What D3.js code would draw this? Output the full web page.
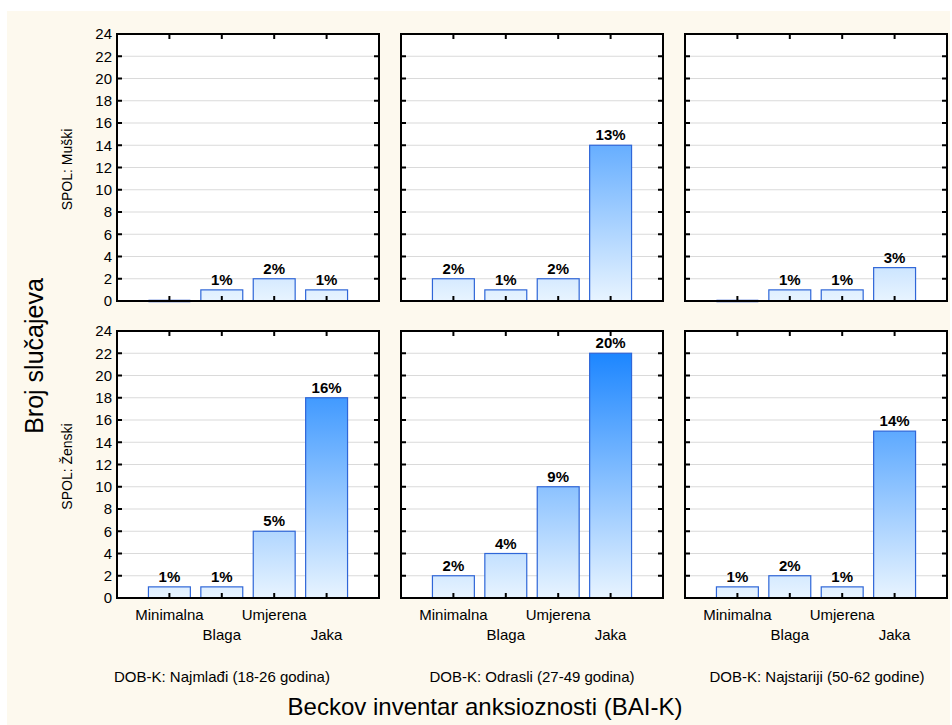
<!DOCTYPE html>
<html>
<head>
<meta charset="utf-8">
<script src="https://cdn.jsdelivr.net/npm/d3@7"></script>
<style>
  body { margin: 0; background: #fff; }
  text { font-family: "Liberation Sans", Arial, sans-serif; fill: #000; }
</style>
</head>
<body>
<div id="chart"></div>
<script>
// data
let categories = ["Minimalna", "Blaga", "Umjerena", "Jaka"];
let ageGroups = ["DOB-K: Najmlađi (18-26 godina)", "DOB-K: Odrasli (27-49 godina)", "DOB-K: Najstariji (50-62 godine)"];
let sexGroups = ["SPOL: Muški", "SPOL: Ženski"];
let yTicks = [0, 2, 4, 6, 8, 10, 12, 14, 16, 18, 20, 22, 24];

let maleYoung = [0, 1, 2, 1];
let maleAdult = [2, 1, 2, 14];
let maleOld = [0, 1, 1, 3];
let femaleYoung = [1, 1, 6, 18];
let femaleAdult = [2, 4, 10, 22];
let femaleOld = [1, 2, 1, 15];

let malePctYoung = ["", "1%", "2%", "1%"];
let malePctAdult = ["2%", "1%", "2%", "13%"];
let malePctOld = ["", "1%", "1%", "3%"];
let femalePctYoung = ["1%", "1%", "5%", "16%"];
let femalePctAdult = ["2%", "4%", "9%", "20%"];
let femalePctOld = ["1%", "2%", "1%", "14%"];

let counts = [[maleYoung, maleAdult, maleOld], [femaleYoung, femaleAdult, femaleOld]];
let pcts = [[malePctYoung, malePctAdult, malePctOld], [femalePctYoung, femalePctAdult, femalePctOld]];

let W = 952, H = 725;
let padL = 117, padT = 34, pw = 262, ph = 267, gapX = 22, gapY = 30;

let svg = d3.select('#chart').append('svg')
  .attr('width', W).attr('height', H);

svg.append('rect')
  .attr('x', 7).attr('y', 11).attr('width', 943).attr('height', H - 11)
  .attr('fill', '#fdf9ee');

let defs = svg.append('defs');

let x = d3.scalePoint().domain(categories).range([0, pw]).padding(1);
let y = d3.scaleLinear().domain([0, 24]).range([ph, 0]);
let barW = x.step() * 0.8;

let grad = defs.append('linearGradient')
  .attr('id', 'barGrad')
  .attr('gradientUnits', 'userSpaceOnUse')
  .attr('x1', 0).attr('x2', 0)
  .attr('y1', y(0)).attr('y2', y(24));
grad.append('stop').attr('offset', '0%').attr('stop-color', '#e8f4ff');
grad.append('stop').attr('offset', '100%').attr('stop-color', '#0a7cff');

for (let r = 0; r < 2; r++) {
  for (let c = 0; c < 3; c++) {
    let px = padL + c * (pw + gapX), py = padT + r * (ph + gapY);
    let g = svg.append('g').attr('transform', 'translate(' + px + ',' + py + ')');
    let vals = counts[r][c], labs = pcts[r][c];
    let rows = categories.map((k, i) => ({ cat: k, v: vals[i], lab: labs[i] }));

    g.append('rect').attr('width', pw).attr('height', ph).attr('fill', '#fff');

    // grid
    g.selectAll('.grid').data(yTicks.filter(t => t > 0 && t < 24)).enter()
      .append('line')
      .attr('x1', 0).attr('x2', pw)
      .attr('y1', d => y(d)).attr('y2', d => y(d))
      .attr('stroke', '#dadada').attr('stroke-width', 1.2);

    // bars
    g.selectAll('.bar').data(rows.filter(d => d.v > 0)).enter()
      .append('rect')
      .attr('x', d => x(d.cat) - barW / 2)
      .attr('width', barW)
      .attr('y', d => y(d.v))
      .attr('height', d => y(0) - y(d.v))
      .attr('fill', 'url(#barGrad)')
      .attr('stroke', '#2f66d8').attr('stroke-width', 1.2);

    // zero bars
    g.selectAll('.zero').data(rows.filter(d => d.v === 0)).enter()
      .append('line')
      .attr('x1', d => x(d.cat) - barW / 2).attr('x2', d => x(d.cat) + barW / 2)
      .attr('y1', y(0)).attr('y2', y(0))
      .attr('stroke', '#1848c8').attr('stroke-width', 2.5);

    // percent labels
    g.selectAll('.lab').data(rows.filter(d => d.v > 0)).enter()
      .append('text')
      .attr('x', d => x(d.cat))
      .attr('y', d => y(d.v) - 5)
      .attr('text-anchor', 'middle')
      .style('font-size', '15px').style('font-weight', 'bold')
      .text(d => d.lab);

    // inner ticks on all sides
    let tk = 5;
    g.selectAll('.tl').data(yTicks).enter().append('line')
      .attr('x1', 0).attr('x2', tk).attr('y1', d => y(d)).attr('y2', d => y(d))
      .attr('stroke', '#000').attr('stroke-width', 2);
    g.selectAll('.tr').data(yTicks).enter().append('line')
      .attr('x1', pw - tk).attr('x2', pw).attr('y1', d => y(d)).attr('y2', d => y(d))
      .attr('stroke', '#000').attr('stroke-width', 2);
    g.selectAll('.tt').data(categories).enter().append('line')
      .attr('x1', d => x(d)).attr('x2', d => x(d)).attr('y1', 0).attr('y2', tk)
      .attr('stroke', '#000').attr('stroke-width', 2);
    g.selectAll('.tb').data(categories).enter().append('line')
      .attr('x1', d => x(d)).attr('x2', d => x(d)).attr('y1', ph - tk).attr('y2', ph)
      .attr('stroke', '#000').attr('stroke-width', 2);

    // frame
    g.append('rect').attr('width', pw).attr('height', ph)
      .attr('fill', 'none').attr('stroke', '#000').attr('stroke-width', 2);

    // y tick labels on left column
    if (c === 0) {
      g.selectAll('.yl').data(yTicks).enter().append('text')
        .attr('x', -5).attr('y', d => y(d)).attr('dy', '0.36em')
        .attr('text-anchor', 'end')
        .style('font-size', '15px')
        .text(d => d);
      g.append('text')
        .attr('transform', 'translate(-45,' + (ph / 2 + 2) + ') rotate(-90)')
        .attr('text-anchor', 'middle')
        .style('font-size', '14px')
        .text(sexGroups[r]);
    }

    // x category labels on bottom row
    if (r === 1) {
      g.selectAll('.xl').data(categories).enter().append('text')
        .attr('x', d => x(d))
        .attr('y', (d, i) => ph + (i % 2 === 0 ? 22 : 42))
        .attr('text-anchor', 'middle')
        .style('font-size', '15px')
        .text(d => d);
      g.append('text')
        .attr('x', pw / 2 - (c === 0 ? 26 : 0) + (c === 2 ? 1 : 0))
        .attr('y', ph + 84)
        .attr('text-anchor', 'middle')
        .style('font-size', '15px')
        .text(ageGroups[c]);
    }
  }
}

svg.append('text')
  .attr('x', 485).attr('y', 715)
  .attr('text-anchor', 'middle')
  .style('font-size', '24px')
  .text('Beckov inventar anksioznosti (BAI-K)');

svg.append('text')
  .attr('transform', 'translate(43,356) rotate(-90)')
  .attr('text-anchor', 'middle')
  .style('font-size', '25px')
  .text('Broj slučajeva');
</script>
</body>
</html>
